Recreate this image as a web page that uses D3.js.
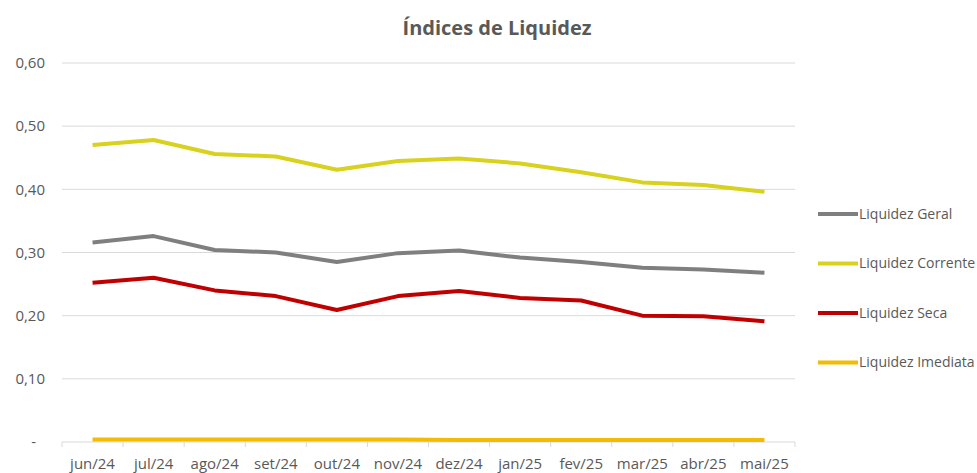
<!DOCTYPE html>
<html>
<head>
<meta charset="utf-8">
<script src="https://cdn.jsdelivr.net/npm/d3@7"></script>
<style>
  body { margin: 0; background: #fff; }
  text { font-family: "Open Sans", "Liberation Sans", sans-serif; fill: #595959; }
</style>
</head>
<body>
<script>
// months on the x axis
var months = ["jun/24","jul/24","ago/24","set/24","out/24","nov/24","dez/24","jan/25","fev/25","mar/25","abr/25","mai/25"];

// series values
var liqGeral     = [0.316, 0.326, 0.304, 0.300, 0.285, 0.299, 0.303, 0.292, 0.285, 0.276, 0.273, 0.268];
var liqCorrente  = [0.470, 0.478, 0.456, 0.452, 0.431, 0.445, 0.449, 0.441, 0.427, 0.411, 0.407, 0.396];
var liqSeca      = [0.252, 0.260, 0.240, 0.231, 0.209, 0.231, 0.239, 0.228, 0.224, 0.200, 0.199, 0.191];
var liqImediata  = [0.004, 0.004, 0.004, 0.004, 0.004, 0.004, 0.003, 0.003, 0.003, 0.003, 0.003, 0.003];

var yTicks = [0, 0.1, 0.2, 0.3, 0.4, 0.5, 0.6];
var seriesNames = ["Liquidez Geral", "Liquidez Corrente", "Liquidez Seca", "Liquidez Imediata"];
var seriesData = [liqGeral, liqCorrente, liqSeca, liqImediata];
var seriesColors = ["#7f7f7f", "#d8d21e", "#c00000", "#f2bc00"];

var width = 977, height = 473;
var plotLeft = 62, plotRight = 795, plotTop = 63, plotBottom = 442;

var svg = d3.select("body").append("svg")
    .attr("width", width)
    .attr("height", height);

var x = d3.scaleBand().domain(months).range([plotLeft, plotRight]).padding(0);
var y = d3.scaleLinear().domain([0, 0.6]).range([plotBottom, plotTop]);

// title
svg.append("text")
    .attr("x", 497).attr("y", 35)
    .attr("text-anchor", "middle")
    .style("font-size", "20px")
    .style("font-weight", "bold")
    .text("Índices de Liquidez");

// gridlines
svg.selectAll("line.grid")
    .data(yTicks.slice(1))
    .enter().append("line")
    .attr("class", "grid")
    .attr("x1", plotLeft).attr("x2", plotRight)
    .attr("y1", function(d) { return y(d); })
    .attr("y2", function(d) { return y(d); })
    .style("stroke", "#d9d9d9")
    .style("stroke-width", 1);

// y labels
svg.selectAll("text.ylab")
    .data(yTicks)
    .enter().append("text")
    .attr("class", "ylab")
    .attr("x", function(d) { return d === 0 ? 36 : 45; })
    .attr("y", function(d) { return y(d); })
    .attr("dy", "0.35em")
    .attr("text-anchor", "end")
    .style("font-size", "15px")
    .text(function(d) { return d === 0 ? "-" : d3.format(".2f")(d).replace(".", ","); });

// x axis
var xAxis = svg.append("g")
    .attr("transform", "translate(0," + plotBottom + ")");
xAxis.append("line")
    .attr("x1", plotLeft).attr("x2", plotRight)
    .style("stroke", "#d9d9d9");
var bounds = months.map(function(m) { return x(m); }).concat([plotRight]);
xAxis.selectAll("line.tick")
    .data(bounds)
    .enter().append("line")
    .attr("class", "tick")
    .attr("x1", function(d) { return d; })
    .attr("x2", function(d) { return d; })
    .attr("y1", 0).attr("y2", 5)
    .style("stroke", "#d9d9d9");
xAxis.selectAll("text")
    .data(months)
    .enter().append("text")
    .attr("x", function(d) { return x(d) + x.bandwidth() / 2; })
    .attr("y", 27)
    .attr("text-anchor", "middle")
    .style("font-size", "15px")
    .text(function(d) { return d; });

// lines
var line = d3.line()
    .x(function(d, i) { return x(months[i]) + x.bandwidth() / 2; })
    .y(function(d) { return y(d); });

// draw order: imediata at the bottom, then others
[3, 1, 0, 2].forEach(function(k) {
    svg.append("path")
        .datum(seriesData[k])
        .attr("d", line)
        .style("fill", "none")
        .style("stroke", seriesColors[k])
        .style("stroke-width", 4)
        .style("stroke-linejoin", "round");
});

// legend
var legend = svg.selectAll("g.legend")
    .data(seriesNames)
    .enter().append("g")
    .attr("class", "legend")
    .attr("transform", function(d, i) { return "translate(818," + (214 + i * 49.5) + ")"; });

legend.append("line")
    .attr("x1", 0).attr("x2", 40)
    .style("stroke", function(d, i) { return seriesColors[i]; })
    .style("stroke-width", 4);

legend.append("text")
    .attr("x", 41)
    .attr("dy", "0.35em")
    .style("font-size", "14px")
    .text(function(d) { return d; });
</script>
</body>
</html>
